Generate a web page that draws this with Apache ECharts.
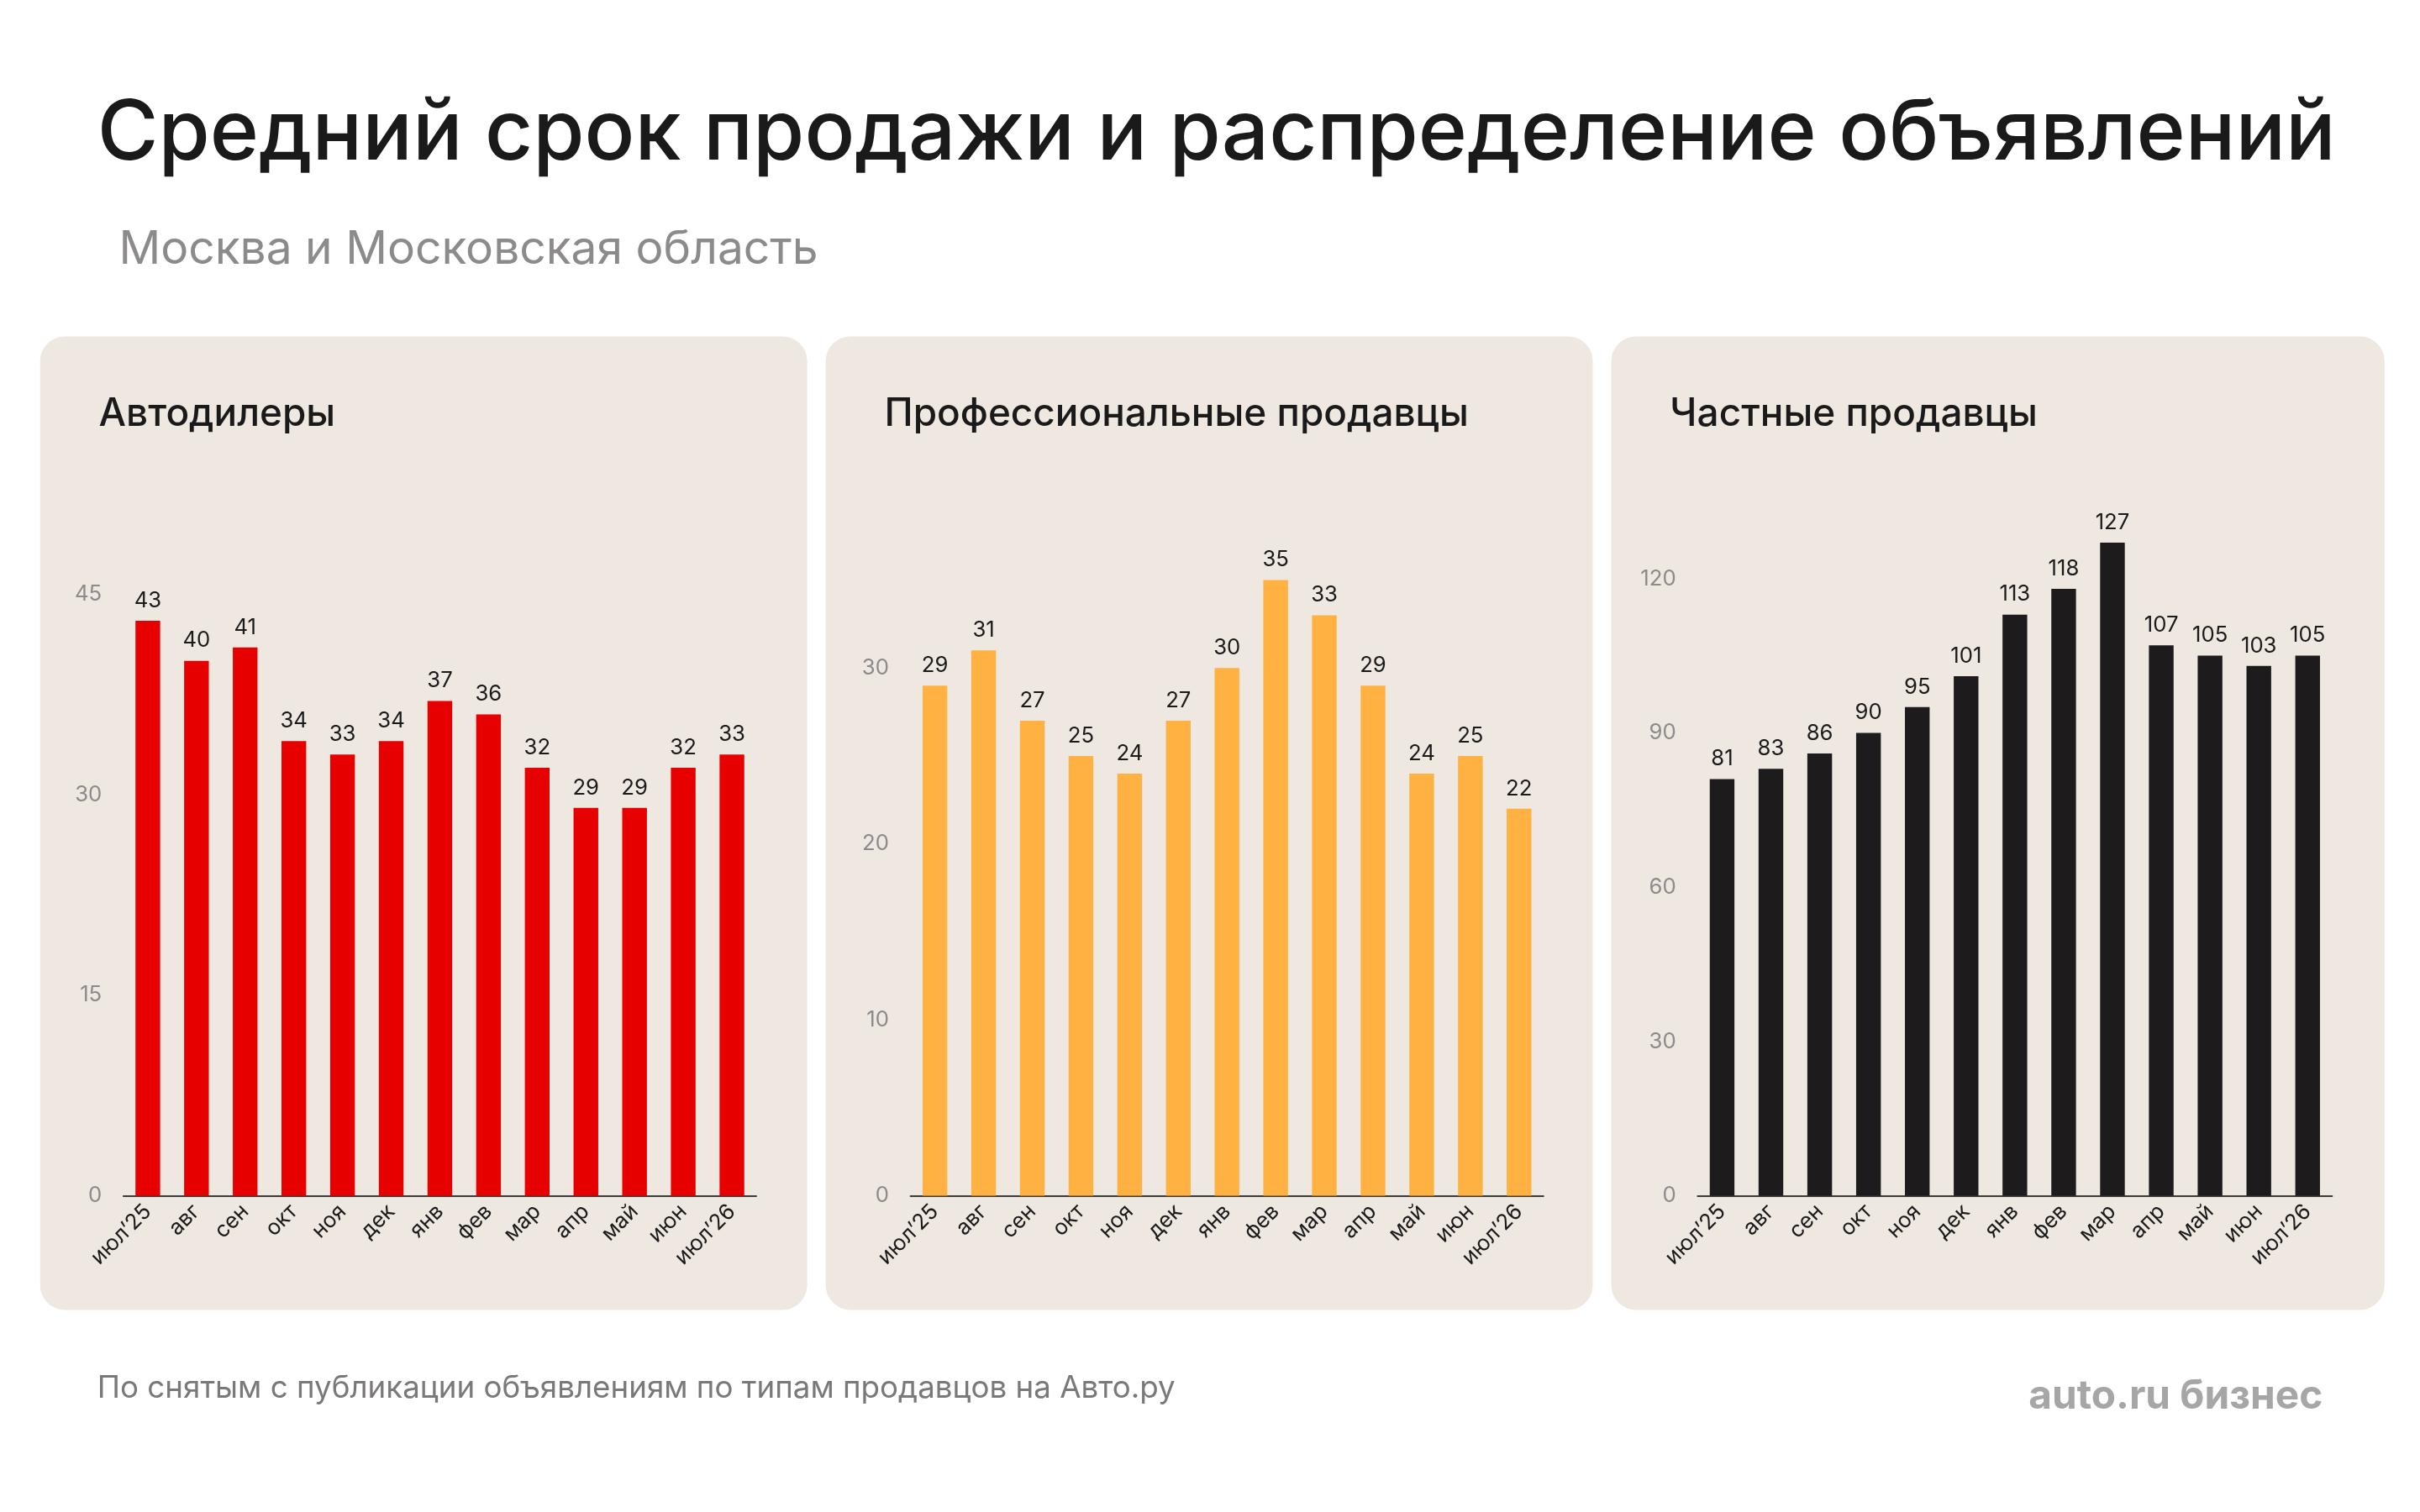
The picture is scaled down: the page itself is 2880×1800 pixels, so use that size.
<!DOCTYPE html>
<html><head><meta charset="utf-8">
<script src="https://cdn.jsdelivr.net/npm/echarts@6/dist/echarts.min.js"></script>
<style>html,body{margin:0;background:#fff}#c{width:2880px;height:1800px}</style>
</head><body><div id="c"></div>
<script>
// данные
const months = ["июл’25","авг","сен","окт","ноя","дек","янв","фев","мар","апр","май","июн","июл’26"];
const dealers = [43,40,41,34,33,34,37,36,32,29,29,32,33];
const pros = [29,31,27,25,24,27,30,35,33,29,24,25,22];
const privates = [81,83,86,90,95,101,113,118,127,107,105,103,105];
const panelTitles = ["Автодилеры","Профессиональные продавцы","Частные продавцы"];

const s = 2880/1568;
const S = v => v*s;
const FONT = 'Inter, "Noto Sans", sans-serif';

const panels = [
  {x:26, w:497, gx:80, gw:410, top:385, max:45, interval:15, color:'#E60000', data:dealers},
  {x:535, w:497, gx:590, gw:410, top:319, max:40, interval:10, color:'#FFB142', data:pros},
  {x:1044, w:501, gx:1100, gw:411, top:275, max:150, interval:30, color:'#1E1B1C', data:privates}
];

const graphic = [
  {type:'text', left:S(63), top:S(60), style:{text:'Средний срок продажи и распределение объявлений', font:'500 '+S(54)+'px '+FONT, fill:'#1a1a1a'}},
  {type:'text', left:S(77), top:S(147), style:{text:'Москва и Московская область', font:S(30)+'px '+FONT, fill:'#8c8a8b'}},
  {type:'text', left:S(63), top:S(890), style:{text:'По снятым с публикации объявлениям по типам продавцов на Авто.ру', font:S(20)+'px '+FONT, fill:'#7a7879'}},
  {type:'text', right:S(1568-1505), top:S(892), style:{text:'auto.ru бизнес', font:'bold '+S(26)+'px '+FONT, fill:'#a7a5a6'}}
];
panels.forEach((p,i)=>{
  graphic.push({type:'rect', z:-1, shape:{x:S(p.x), y:S(218), width:S(p.w), height:S(631), r:S(16)}, style:{fill:'#EEE8E1'}});
  graphic.push({type:'text', left:S(p.x+38), top:S(256), style:{text:panelTitles[i], font:'500 '+S(25)+'px '+FONT, fill:'#1a1a1a'}});
});

const option = {
  animation:false,
  graphic: graphic,
  grid: panels.map(p=>({left:S(p.gx), width:S(p.gw), top:S(p.top), height:S(775-p.top)})),
  xAxis: panels.map((p,i)=>({type:'category', gridIndex:i, data:months,
    axisLine:{lineStyle:{color:'#3a3a3a', width:2}}, axisTick:{show:false},
    axisLabel:{rotate:45, color:'#1a1a1a', fontSize:S(14), fontFamily:FONT, margin:S(8)}})),
  yAxis: panels.map((p,i)=>({type:'value', gridIndex:i, min:0, max:p.max, interval:p.interval,
    splitLine:{show:false}, axisLine:{show:false}, axisTick:{show:false},
    axisLabel:{showMaxLabel:i===0, color:'#8c8a8b', fontSize:S(14), fontFamily:FONT, margin:S(14)}})),
  series: panels.map((p,i)=>({type:'bar', xAxisIndex:i, yAxisIndex:i, data:p.data, barWidth:S(16),
    itemStyle:{color:p.color},
    label:{show:true, position:'top', distance:S(6), color:'#1a1a1a', fontSize:S(14), fontFamily:FONT}}))
};
echarts.init(document.getElementById('c')).setOption(option);
</script></body></html>
